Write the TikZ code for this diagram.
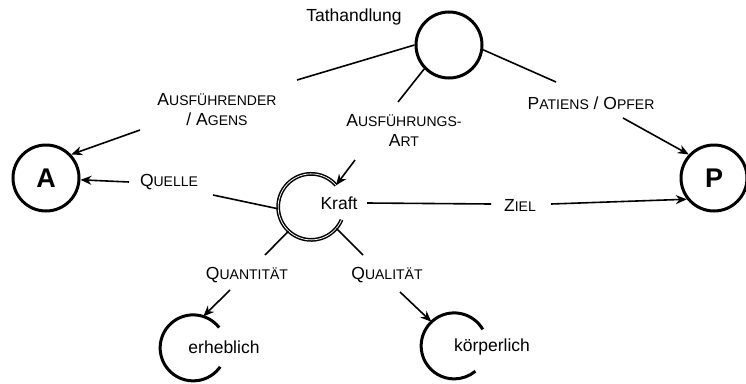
\documentclass[tikz,border=0pt]{standalone}
\usepackage{fontspec}
\setmainfont{Liberation Sans}
\usetikzlibrary{arrows.meta}
\newcommand{\sck}[2]{#1{\fontsize{14}{14}\selectfont #2}}
\begin{document}
\begin{tikzpicture}[x=1pt,y=1pt,
  big/.style={circle, draw, line width=3pt, minimum size=66pt, inner sep=0pt, font=\fontsize{27}{27}\selectfont\bfseries},
  hub/.style={circle, minimum size=66pt, inner sep=0pt},
  lbl/.style={font=\fontsize{17.5}{20}\selectfont, inner sep=1pt, align=center},
  con/.style={line width=1.6pt},
  arr/.style={con, -{Stealth[length=11pt,width=9pt]}},
  open/.style={line width=3pt},
  dbl/.style={double, line width=1.5pt, double distance=0.8pt},
]
\useasboundingbox (0,0) rectangle (746,-383);
% circles
\node[big] (T) at (449,-45) {};
\node[big] (A) at (46,-178) {A};
\node[big] (P) at (714,-178) {P};
\node[hub] (K) at (311,-207) {};
\node[hub] (E) at (193,-348) {};
\node[hub] (Kp) at (454,-346) {};
\draw[dbl] (K.41) arc[start angle=41, end angle=337, radius=33];
\draw[open] (E.38) arc[start angle=38, end angle=325, radius=33];
\draw[open] (Kp.30) arc[start angle=30, end angle=310, radius=33];
% texts
\node[lbl] (tT) at (354,-17) {Tathandlung};
\node[lbl] (tK) at (339,-203) {Kraft};
\node[lbl] (tE) at (224,-347) {erheblich};
\node[lbl] (tKp) at (492,-347) {körperlich};
\node[lbl] (lAg) at (217,-110) {\sck{A}{USFÜHRENDER}\\/ \sck{A}{GENS}};
\node[lbl] (lArt) at (404,-130) {\sck{A}{USFÜHRUNGS-}\\\sck{A}{RT}};
\node[lbl] (lPat) at (591,-103) {\sck{P}{ATIENS} / \sck{O}{PFER}};
\node[lbl] (lQu) at (169,-182) {\sck{Q}{UELLE}};
\node[lbl] (lZ) at (520,-205) {\sck{Z}{IEL}};
\node[lbl] (lQn) at (247,-275) {\sck{Q}{UANTITÄT}};
\node[lbl] (lQl) at (387,-275) {\sck{Q}{UALITÄT}};
% free ends
\coordinate (c1) at (297,-80);
\coordinate (c2) at (398,-102);
\coordinate (c3) at (556,-82);
\coordinate (c4) at (140,-130);
\coordinate (c5) at (129,-182);
\coordinate (c6) at (213,-195);
\coordinate (c7) at (355,-160);
\coordinate (c8) at (367,-203);
\coordinate (c9) at (491,-204);
\coordinate (c10) at (551,-204);
\coordinate (c11) at (623,-118);
\coordinate (c12) at (265,-255);
\coordinate (c13) at (363,-255);
\coordinate (c14) at (230,-290);
\coordinate (c15) at (400,-292);
% connectors
\draw[con] (T.180) -- (c1);
\draw[con] (T.224) -- (c2);
\draw[con] (T.-8) -- (c3);
\draw[arr] (c4) -- (A.43);
\draw[arr] (c5) -- (A.-3);
\draw[con] (c6) -- (K.183);
\draw[arr] (c7) -- (K.41);
\draw[con] (c8) -- (c9);
\draw[arr] (c10) -- (P.218);
\draw[arr] (c11) -- (P.137);
\draw[con] (K.227) -- (c12);
\draw[con] (K.320) -- (c13);
\draw[arr] (c14) -- (E.72);
\draw[arr] (c15) -- (Kp.133);
\end{tikzpicture}
\end{document}
